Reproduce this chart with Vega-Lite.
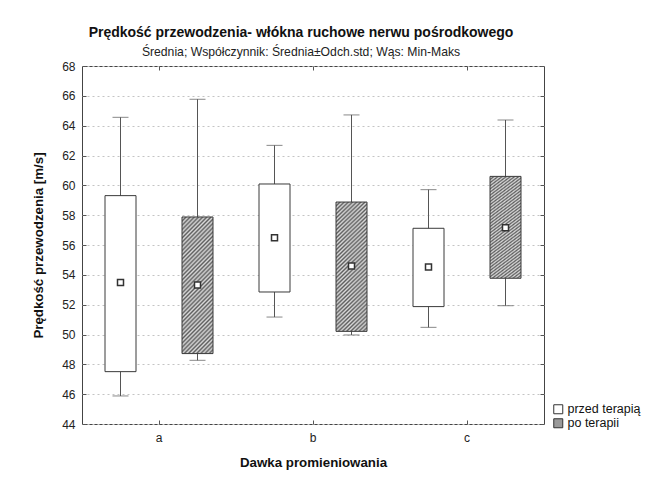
{
  "$schema": "https://vega.github.io/schema/vega-lite/v6.json",
  "width": 462,
  "height": 358,
  "autosize": "none",
  "padding": {"left": 82, "top": 66, "right": 102, "bottom": 54},
  "background": "white",
  "title": {
    "text": "Prędkość przewodzenia- włókna ruchowe nerwu pośrodkowego",
    "subtitle": "Średnia; Współczynnik: Średnia±Odch.std; Wąs: Min-Maks",
    "anchor": "middle",
    "frame": "group",
    "dx": -12,
    "offset": 2,
    "font": "Liberation Sans",
    "fontSize": 14,
    "fontWeight": "bold",
    "color": "#111",
    "subtitleFont": "Liberation Sans",
    "subtitleFontSize": 12.2,
    "subtitleColor": "#222",
    "subtitlePadding": 6
  },
  "data": {
    "values": [
      {"g": "a", "s": "przed terapią", "min": 45.88, "lo": 47.51, "mean": 53.48, "hi": 59.31, "max": 64.56},
      {"g": "a", "s": "po terapii", "min": 48.27, "lo": 48.72, "mean": 53.32, "hi": 57.88, "max": 65.77},
      {"g": "b", "s": "przed terapią", "min": 51.17, "lo": 52.85, "mean": 56.49, "hi": 60.09, "max": 62.68},
      {"g": "b", "s": "po terapii", "min": 49.97, "lo": 50.21, "mean": 54.59, "hi": 58.88, "max": 64.72},
      {"g": "c", "s": "przed terapią", "min": 50.48, "lo": 51.87, "mean": 54.53, "hi": 57.12, "max": 59.71},
      {"g": "c", "s": "po terapii", "min": 51.93, "lo": 53.77, "mean": 57.16, "hi": 60.6, "max": 64.38}
    ]
  },
  "layer": [
    {
      "mark": {"type": "rule", "color": "#555", "strokeWidth": 1},
      "encoding": {
        "x": {
          "field": "g", "type": "nominal",
          "scale": {"paddingInner": 0, "paddingOuter": 0},
          "axis": {
            "title": "Dawka promieniowania",
            "labelAngle": 0,
            "offset": -4,
            "tickSize": 4,
            "labelPadding": 8,
            "domain": false,
            "grid": false,
            "titlePadding": 12
          }
        },
        "xOffset": {"field": "s", "type": "nominal", "scale": {"domain": ["przed terapią", "po terapii"], "paddingInner": 0, "paddingOuter": 0}},
        "y": {
          "field": "min", "type": "quantitative",
          "scale": {"domain": [44, 68], "nice": false, "zero": false},
          "axis": {
            "title": "Prędkość przewodzenia [m/s]",
            "values": [44, 46, 48, 50, 52, 54, 56, 58, 60, 62, 64, 66, 68],
            "offset": -4,
            "tickSize": 4,
            "labelPadding": 7,
            "domain": false,
            "grid": true,
            "gridDash": [2, 3],
            "gridColor": "#c4c4c4",
            "titlePadding": 16
          }
        },
        "y2": {"field": "max"}
      }
    },
    {
      "mark": {"type": "tick", "color": "#555", "size": 16, "thickness": 1},
      "encoding": {
        "x": {"field": "g", "type": "nominal", "axis": {"orient": "top", "title": null, "labels": false, "domain": false, "grid": false, "offset": -4, "tickSize": 4}},
        "xOffset": {"field": "s", "type": "nominal"},
        "y": {"field": "max", "type": "quantitative", "axis": {"orient": "right", "title": null, "labels": false, "domain": false, "grid": false, "offset": -4, "tickSize": 4, "values": [44, 46, 48, 50, 52, 54, 56, 58, 60, 62, 64, 66, 68]}}
      }
    },
    {
      "mark": {"type": "tick", "color": "#555", "size": 16, "thickness": 1},
      "encoding": {
        "x": {"field": "g", "type": "nominal", "axis": null},
        "xOffset": {"field": "s", "type": "nominal"},
        "y": {"field": "min", "type": "quantitative", "axis": null}
      }
    },
    {
      "mark": {"type": "bar", "size": 31, "stroke": "#3a3a3a", "strokeWidth": 1},
      "encoding": {
        "x": {"field": "g", "type": "nominal", "axis": null},
        "xOffset": {"field": "s", "type": "nominal"},
        "y": {"field": "lo", "type": "quantitative", "axis": null},
        "y2": {"field": "hi"},
        "fill": {
          "condition": {
            "test": "datum.s === 'po terapii'",
            "value": {
              "gradient": "linear", "x1": 0, "y1": 0, "x2": 0.27, "y2": 1.17,
              "stops": [
                {"offset": 0, "color": "#5e5e5e"}, {"offset": 0.0125, "color": "#dadada"},
                {"offset": 0.025, "color": "#5e5e5e"}, {"offset": 0.0375, "color": "#dadada"},
                {"offset": 0.05, "color": "#5e5e5e"}, {"offset": 0.0625, "color": "#dadada"},
                {"offset": 0.075, "color": "#5e5e5e"}, {"offset": 0.0875, "color": "#dadada"},
                {"offset": 0.1, "color": "#5e5e5e"}, {"offset": 0.1125, "color": "#dadada"},
                {"offset": 0.125, "color": "#5e5e5e"}, {"offset": 0.1375, "color": "#dadada"},
                {"offset": 0.15, "color": "#5e5e5e"}, {"offset": 0.1625, "color": "#dadada"},
                {"offset": 0.175, "color": "#5e5e5e"}, {"offset": 0.1875, "color": "#dadada"},
                {"offset": 0.2, "color": "#5e5e5e"}, {"offset": 0.2125, "color": "#dadada"},
                {"offset": 0.225, "color": "#5e5e5e"}, {"offset": 0.2375, "color": "#dadada"},
                {"offset": 0.25, "color": "#5e5e5e"}, {"offset": 0.2625, "color": "#dadada"},
                {"offset": 0.275, "color": "#5e5e5e"}, {"offset": 0.2875, "color": "#dadada"},
                {"offset": 0.3, "color": "#5e5e5e"}, {"offset": 0.3125, "color": "#dadada"},
                {"offset": 0.325, "color": "#5e5e5e"}, {"offset": 0.3375, "color": "#dadada"},
                {"offset": 0.35, "color": "#5e5e5e"}, {"offset": 0.3625, "color": "#dadada"},
                {"offset": 0.375, "color": "#5e5e5e"}, {"offset": 0.3875, "color": "#dadada"},
                {"offset": 0.4, "color": "#5e5e5e"}, {"offset": 0.4125, "color": "#dadada"},
                {"offset": 0.425, "color": "#5e5e5e"}, {"offset": 0.4375, "color": "#dadada"},
                {"offset": 0.45, "color": "#5e5e5e"}, {"offset": 0.4625, "color": "#dadada"},
                {"offset": 0.475, "color": "#5e5e5e"}, {"offset": 0.4875, "color": "#dadada"},
                {"offset": 0.5, "color": "#5e5e5e"}, {"offset": 0.5125, "color": "#dadada"},
                {"offset": 0.525, "color": "#5e5e5e"}, {"offset": 0.5375, "color": "#dadada"},
                {"offset": 0.55, "color": "#5e5e5e"}, {"offset": 0.5625, "color": "#dadada"},
                {"offset": 0.575, "color": "#5e5e5e"}, {"offset": 0.5875, "color": "#dadada"},
                {"offset": 0.6, "color": "#5e5e5e"}, {"offset": 0.6125, "color": "#dadada"},
                {"offset": 0.625, "color": "#5e5e5e"}, {"offset": 0.6375, "color": "#dadada"},
                {"offset": 0.65, "color": "#5e5e5e"}, {"offset": 0.6625, "color": "#dadada"},
                {"offset": 0.675, "color": "#5e5e5e"}, {"offset": 0.6875, "color": "#dadada"},
                {"offset": 0.7, "color": "#5e5e5e"}, {"offset": 0.7125, "color": "#dadada"},
                {"offset": 0.725, "color": "#5e5e5e"}, {"offset": 0.7375, "color": "#dadada"},
                {"offset": 0.75, "color": "#5e5e5e"}, {"offset": 0.7625, "color": "#dadada"},
                {"offset": 0.775, "color": "#5e5e5e"}, {"offset": 0.7875, "color": "#dadada"},
                {"offset": 0.8, "color": "#5e5e5e"}, {"offset": 0.8125, "color": "#dadada"},
                {"offset": 0.825, "color": "#5e5e5e"}, {"offset": 0.8375, "color": "#dadada"},
                {"offset": 0.85, "color": "#5e5e5e"}, {"offset": 0.8625, "color": "#dadada"},
                {"offset": 0.875, "color": "#5e5e5e"}, {"offset": 0.8875, "color": "#dadada"},
                {"offset": 0.9, "color": "#5e5e5e"}, {"offset": 0.9125, "color": "#dadada"},
                {"offset": 0.925, "color": "#5e5e5e"}, {"offset": 0.9375, "color": "#dadada"},
                {"offset": 0.95, "color": "#5e5e5e"}, {"offset": 0.9625, "color": "#dadada"},
                {"offset": 0.975, "color": "#5e5e5e"}, {"offset": 0.9875, "color": "#dadada"},
                {"offset": 1, "color": "#5e5e5e"}
              ]
            }
          },
          "field": "s", "type": "nominal",
          "scale": {"domain": ["przed terapią", "po terapii"], "range": ["white", "#9a9a9a"]},
          "legend": {
            "title": null,
            "orient": "none",
            "legendX": 470,
            "legendY": 337,
            "symbolType": "square",
            "symbolSize": 81,
            "symbolStrokeColor": "#333",
            "symbolStrokeWidth": 1,
            "symbolOpacity": 1,
            "labelFont": "Liberation Sans",
            "labelFontSize": 12.5,
            "labelColor": "#111",
            "labelOffset": 3,
            "rowPadding": 0
          }
        }
      }
    },
    {
      "mark": {"type": "point", "shape": "square", "size": 36, "filled": true, "fill": "white", "stroke": "#333", "strokeWidth": 1.5, "opacity": 1},
      "encoding": {
        "x": {"field": "g", "type": "nominal", "axis": null},
        "xOffset": {"field": "s", "type": "nominal"},
        "y": {"field": "mean", "type": "quantitative", "axis": null}
      }
    }
  ],
  "resolve": {"axis": {"x": "independent", "y": "independent"}},
  "config": {
    "view": {"stroke": "#444", "strokeWidth": 1},
    "font": "Liberation Sans",
    "axis": {
      "labelFont": "Liberation Sans",
      "labelFontSize": 12,
      "labelColor": "#222",
      "tickColor": "#555",
      "titleFont": "Liberation Sans",
      "titleFontSize": 13.3,
      "titleFontWeight": "bold",
      "titleColor": "#111"
    }
  }
}
